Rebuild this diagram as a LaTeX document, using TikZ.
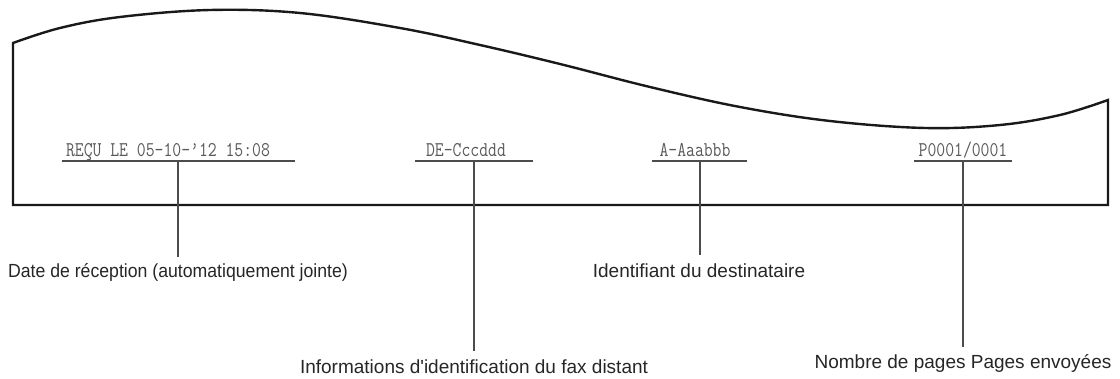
\documentclass[tikz,border=0pt]{standalone}
\usepackage{fontspec}
\setmainfont{Liberation Sans}
\newfontfamily\monof[FakeStretch=0.82]{Latin Modern Mono}
\newfontfamily\labf{Liberation Sans}
\newfontfamily\labn[FakeStretch=0.93]{Liberation Sans}
\begin{document}
\begin{tikzpicture}[x=1pt,y=-1pt,
  paper/.style={line width=2.4pt, draw=black!90, line join=miter},
  uline/.style={line width=1.2pt, draw=black!70},
  mono/.style={font=\monof\fontsize{21}{21}\selectfont, text=black!65, inner sep=0pt, anchor=base},
  lab/.style={font=\labf\fontsize{19}{19}\selectfont, text=black!85, inner sep=0pt, anchor=base},
  labnarrow/.style={lab, font=\labn\fontsize{19}{19}\selectfont}]
\useasboundingbox (0,0) rectangle (1120,379);
% paper outline
\draw[paper]
  plot[smooth, tension=0.6] coordinates {(13,43) (60,28) (120,17) (210,10) (300,13) (400,28) (480,45) (560,64) (650,87) (740,107) (830,121) (925,128) (1000,125) (1060,115) (1108,100)}
  -- (1108,205) -- (13,205) -- cycle;
% printed header texts
\node[mono] (t1) at (168,157) {REÇU LE 05-10-’12 15:08};
\node[mono] (t2) at (466,157) {DE-Cccddd};
\node[mono] (t3) at (695,157) {A-Aaabbb};
\node[mono] (t4) at (963,157) {P0001/0001};
% underlines
\coordinate (u1a) at (62,161);  \coordinate (u1b) at (295,161);
\coordinate (u2a) at (415,161); \coordinate (u2b) at (533,161);
\coordinate (u3a) at (652,161); \coordinate (u3b) at (747,161);
\coordinate (u4a) at (914,161); \coordinate (u4b) at (1012,161);
\draw[uline] (u1a) -- (u1b);
\draw[uline] (u2a) -- (u2b);
\draw[uline] (u3a) -- (u3b);
\draw[uline] (u4a) -- (u4b);
% labels
\node[labnarrow] (l1) at (178,278) {Date de réception (automatiquement jointe)};
\node[lab] (l2) at (474,374) {Informations d'identification du fax distant};
\node[lab] (l3) at (699,278) {Identifiant du destinataire};
\node[lab] (l4) at (963,369) {Nombre de pages Pages envoyées};
% leaders
\coordinate (j1) at (178,161); \coordinate (e1) at (178,257);
\coordinate (j2) at (474,161); \coordinate (e2) at (474,351);
\coordinate (j3) at (700,161); \coordinate (e3) at (700,255);
\coordinate (j4) at (963,161); \coordinate (e4) at (963,347);
\draw[uline] (j1) -- (e1);
\draw[uline] (j2) -- (e2);
\draw[uline] (j3) -- (e3);
\draw[uline] (j4) -- (e4);
\end{tikzpicture}
\end{document}
